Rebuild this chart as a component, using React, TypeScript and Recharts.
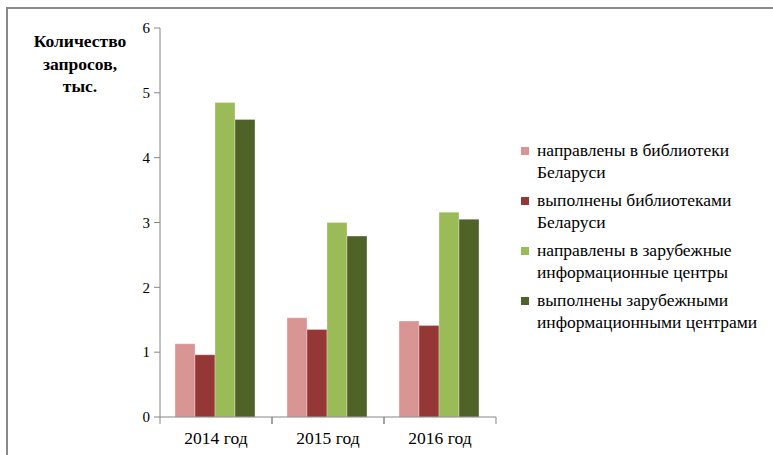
import React from "react";
import { BarChart, Bar, XAxis, YAxis, Legend } from "recharts";

const years = ["2014 год", "2015 год", "2016 год"];
const sentToBelarus = [1.13, 1.53, 1.48];
const doneByBelarus = [0.96, 1.35, 1.41];
const sentAbroad = [4.85, 3.0, 3.16];
const doneAbroad = [4.59, 2.79, 3.05];
const yTicks = [0, 1, 2, 3, 4, 5, 6];

const series = [
  { key: "a", name: "направлены в библиотеки\nБеларуси", color: "#D99594" },
  { key: "b", name: "выполнены библиотеками\nБеларуси", color: "#953735" },
  { key: "c", name: "направлены в зарубежные\nинформационные центры", color: "#9BBB59" },
  { key: "d", name: "выполнены зарубежными\nинформационными центрами", color: "#4F6228" },
];

const data = years.map((year, i) => ({
  year,
  a: sentToBelarus[i],
  b: doneByBelarus[i],
  c: sentAbroad[i],
  d: doneAbroad[i],
}));

const FONT = "Liberation Serif";
const AXIS = "#868686";

function YearTick(props: any) {
  const { x, y, payload } = props;
  const half = payload?.offset ?? 56;
  const top = y - 9;
  return (
    <g>
      <line x1={x - half} y1={top} x2={x - half} y2={top + 7} stroke={AXIS} />
      <line x1={x + half} y1={top} x2={x + half} y2={top + 7} stroke={AXIS} />
      <text x={x} y={top + 27} textAnchor="middle" fontSize={17.5} fontFamily={FONT} fill="#000">
        {payload.value}
      </text>
    </g>
  );
}

// legend drawn from the series list so the order stays as in the source
function SeriesLegend() {
  return (
    <div style={{ fontFamily: FONT, fontSize: 17.5, color: "#000" }}>
      {series.map((s) => (
        <div key={s.key} style={{ display: "flex", alignItems: "flex-start", marginBottom: 7 }}>
          <span
            style={{
              width: 8,
              height: 8,
              background: s.color,
              marginTop: 7,
              marginRight: 8,
              flexShrink: 0,
            }}
          />
          <span style={{ whiteSpace: "pre-line", lineHeight: "21.5px" }}>{s.name}</span>
        </div>
      ))}
    </div>
  );
}

export default function App() {
  return (
    <div
      style={{
        position: "absolute",
        left: 0,
        top: 0,
        width: 773,
        height: 455,
        overflow: "hidden",
        background: "#fff",
      }}
    >
      <div
        style={{
          position: "absolute",
          left: 6,
          top: 7,
          width: 800,
          height: 500,
          borderTop: "2px solid #8a8a8a",
          borderLeft: "2px solid #8a8a8a",
        }}
      />
      <div
        style={{
          position: "absolute",
          left: 15,
          top: 30,
          width: 130,
          textAlign: "center",
          fontFamily: FONT,
          fontWeight: "bold",
          fontSize: 17.5,
          lineHeight: "22.5px",
        }}
      >
        Количество
        <br />
        запросов,
        <br />
        тыс.
      </div>
      <div style={{ position: "absolute", left: 0, top: 0 }}>
        <BarChart
          width={773}
          height={455}
          data={data}
          margin={{ top: 28, right: 17, bottom: 8, left: 0 }}
          barGap={0}
          barCategoryGap="13.4%"
        >
          <XAxis
            dataKey="year"
            height={30}
            stroke={AXIS}
            tickLine={false}
            tickSize={7}
            tickMargin={2}
            tick={<YearTick />}
            interval={0}
          />
          <YAxis
            width={160}
            domain={[0, 6]}
            ticks={yTicks}
            interval={0}
            stroke={AXIS}
            tickSize={6}
            tickMargin={4}
            tick={{ fill: "#000", fontSize: 15, fontFamily: FONT }}
          />
          <Legend
            layout="vertical"
            align="right"
            verticalAlign="middle"
            content={<SeriesLegend />}
            wrapperStyle={{ left: 521, top: 140, width: 260 }}
          />
          {series.map((s) => (
            <Bar
              key={s.key}
              dataKey={s.key}
              name={s.name}
              fill={s.color}
              stroke="#ffffff"
              strokeOpacity={0.5}
              strokeWidth={0.6}
              isAnimationActive={false}
            />
          ))}
        </BarChart>
      </div>
    </div>
  );
}
